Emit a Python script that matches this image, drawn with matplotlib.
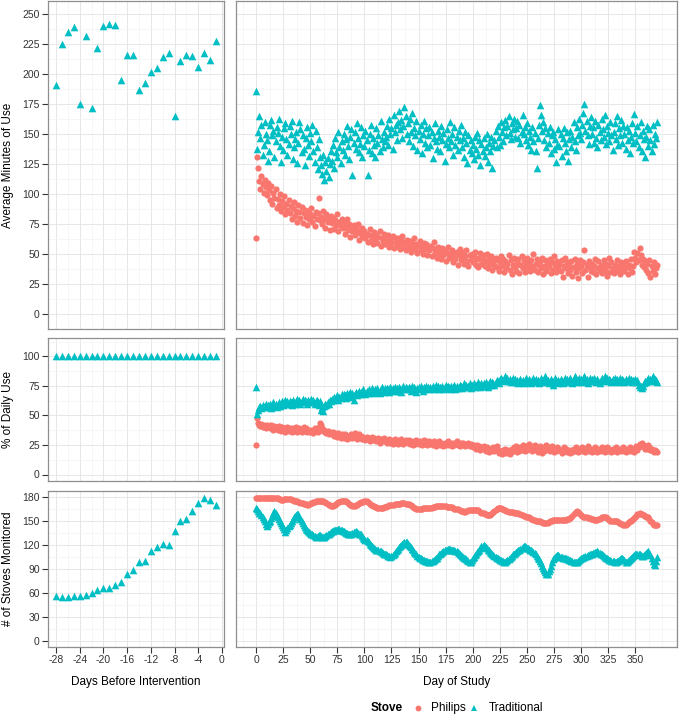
import numpy as np
import matplotlib
matplotlib.use("Agg")
import matplotlib.pyplot as plt
from matplotlib.ticker import MultipleLocator, FixedLocator
from matplotlib.lines import Line2D

plt.rcParams['font.family'] = ['Liberation Sans', 'DejaVu Sans']
plt.rcParams['axes.unicode_minus'] = False

# ---------------- data ----------------
pre_days = list(range(-28, 0))
pre_trad_minutes = [191, 225, 235, 239, 175, 232, 172, 222, 240, 242, 241, 195, 216, 216,
                    187, 193, 202, 205, 214, 218, 165, 211, 216, 215, 206, 218, 212, 228]
pre_trad_pct = [100] * 28
pre_trad_stoves = [56, 55, 55, 56, 56, 57, 60, 64, 66, 66, 70, 73, 83, 89,
                   98, 100, 112, 117, 121, 120, 137, 150, 152, 162, 172, 178, 176, 170]

philips_minutes = [
    63, 131, 122, 111, 104, 115, 108, 101, 112, 106,
    99, 109, 103, 95, 107, 92, 101, 97, 104, 88,
    96, 91, 100, 86, 94, 89, 98, 83, 92, 87,
    95, 84, 90, 79, 88, 93, 82, 86, 77, 91,
    85, 80, 89, 76, 84, 87, 81, 74, 86, 79,
    83, 88, 77, 82, 73, 85, 79, 84, 97, 78,
    81, 75, 86, 79, 72, 83, 77, 80, 70, 82,
    76, 80, 71, 78, 74, 83, 69, 77, 73, 79,
    72, 76, 67, 74, 79, 70, 75, 64, 73, 69,
    74, 66, 71, 68, 75, 62, 70, 67, 72, 64,
    69, 63, 67, 60, 66, 71, 61, 65, 58, 68,
    62, 66, 59, 64, 69, 57, 63, 61, 67, 58,
    64, 60, 66, 56, 62, 59, 65, 55, 63, 60,
    57, 63, 59, 54, 61, 65, 56, 60, 53, 62,
    58, 55, 61, 52, 59, 56, 63, 54, 58, 51,
    57, 61, 53, 56, 50, 59, 54, 58, 49, 55,
    53, 57, 48, 55, 60, 51, 54, 47, 56, 50,
    52, 46, 55, 49, 53, 44, 51, 56, 47, 50,
    48, 53, 43, 50, 46, 52, 41, 49, 54, 45,
    47, 51, 42, 48, 53, 44, 40, 49, 45, 50,
    43, 48, 52, 41, 46, 39, 47, 51, 42, 45,
    49, 40, 44, 50, 38, 46, 42, 48, 37, 44,
    41, 47, 39, 45, 36, 43, 48, 40, 46, 35,
    44, 38, 42, 49, 37, 45, 33, 41, 47, 39,
    36, 43, 46, 34, 41, 48, 38, 44, 35, 42,
    47, 39, 43, 36, 45, 40, 50, 37, 42, 46,
    35, 41, 44, 38, 47, 33, 40, 45, 36, 42,
    39, 46, 34, 43, 37, 48, 41, 35, 44, 38,
    42, 36, 45, 31, 40, 47, 38, 43, 34, 41,
    37, 44, 32, 39, 46, 35, 42, 30, 38, 45,
    40, 34, 43, 53, 37, 41, 31, 44, 39, 36,
    42, 35, 40, 46, 33, 38, 44, 37, 41, 34,
    39, 45, 36, 42, 32, 40, 47, 35, 43, 38,
    34, 41, 37, 45, 36, 40, 33, 43, 38, 42,
    36, 44, 39, 33, 41, 38, 46, 35, 40, 52,
    47, 43, 51, 45, 55, 49, 41, 46, 39, 44,
    37, 42, 34, 45, 31, 40, 36, 43, 33, 38,
    41]

trad_minutes = [
    186, 138, 152, 165, 147, 158, 133, 141, 160, 150,
    145, 128, 136, 158, 162, 149, 153, 131, 144, 156,
    151, 163, 140, 127, 148, 137, 155, 159, 146, 133,
    142, 157, 150, 161, 129, 139, 146, 152, 126, 143,
    160, 154, 135, 149, 138, 124, 147, 156, 141, 132,
    151, 144, 158, 136, 127, 153, 139, 121, 146, 131,
    124, 117, 133, 112, 127, 119, 130, 114, 125, 136,
    128, 141, 122, 147, 135, 131, 152, 139, 126, 144,
    137, 150, 133, 146, 157, 140, 129, 148, 154, 116,
    143, 152, 138, 159, 147, 135, 142, 156, 131, 149,
    140, 153, 145, 116, 137, 150, 158, 134, 147, 141,
    131, 155, 143, 149, 136, 161, 146, 139, 152, 144,
    148, 157, 141, 163, 150, 155, 138, 166, 152, 158,
    145, 160, 169, 154, 162, 147, 157, 173, 165, 150,
    159, 144, 163, 152, 168, 140, 155, 149, 161, 137,
    153, 146, 158, 134, 150, 161, 143, 155, 139, 149,
    156, 141, 152, 130, 147, 159, 144, 138, 153, 148,
    136, 157, 145, 151, 128, 142, 154, 147, 139, 160,
    144, 150, 133, 156, 141, 148, 137, 153, 145, 158,
    139, 147, 131, 152, 143, 126, 149, 137, 145, 134,
    141, 129, 148, 138, 151, 133, 145, 124, 142, 136,
    147, 132, 139, 150, 127, 143, 136, 148, 122, 140,
    145, 153, 139, 157, 148, 141, 160, 152, 144, 156,
    162, 149, 157, 165, 151, 146, 159, 154, 163, 148,
    155, 161, 147, 158, 143, 152, 166, 150, 156, 145,
    159, 141, 153, 148, 137, 156, 144, 151, 136, 122,
    147, 158, 174, 166, 153, 160, 145, 155, 139, 151,
    143, 156, 134, 149, 152, 138, 146, 127, 141, 154,
    140, 150, 132, 147, 155, 143, 136, 152, 128, 146,
    153, 139, 148, 160, 144, 137, 156, 149, 163, 151,
    146, 158, 168, 175, 153, 161, 149, 142, 157, 164,
    150, 156, 143, 161, 147, 139, 158, 152, 145, 163,
    154, 148, 166, 142, 157, 151, 144, 160, 149, 137,
    152, 159, 146, 165, 141, 155, 149, 162, 143, 157,
    150, 138, 156, 145, 153, 134, 148, 159, 143, 167,
    151, 144, 157, 139, 149, 160, 136, 153, 146, 131,
    148, 157, 140, 154, 145, 136, 158, 142, 150, 147,
    160]

philips_pct = [
    25, 48, 44, 42, 41, 43, 40, 42, 41, 39,
    42, 40, 41, 39, 42, 40, 38, 41, 39, 40,
    38, 41, 39, 37, 40, 38, 39, 36, 38, 40,
    37, 39, 38, 36, 39, 37, 38, 40, 36, 38,
    39, 37, 36, 38, 40, 37, 39, 36, 38, 37,
    36, 38, 37, 35, 39, 37, 38, 36, 40, 44,
    42, 39, 37, 38, 36, 35, 37, 34, 36, 35,
    34, 36, 33, 35, 34, 32, 35, 33, 31, 34,
    33, 31, 34, 32, 30, 33, 31, 32, 34, 31,
    32, 35, 33, 30, 32, 34, 31, 33, 30, 32,
    31, 29, 32, 30, 31, 28, 30, 32, 29, 31,
    30, 28, 29, 31, 27, 30, 28, 29, 31, 28,
    29, 27, 28, 30, 27, 29, 26, 28, 30, 27,
    28, 26, 29, 27, 30, 28, 26, 27, 29, 28,
    27, 29, 26, 28, 27, 25, 28, 26, 29, 27,
    26, 28, 27, 25, 27, 29, 26, 28, 25, 27,
    28, 26, 27, 25, 28, 26, 24, 27, 26, 28,
    25, 27, 26, 24, 27, 25, 26, 28, 25, 27,
    26, 24, 27, 25, 26, 28, 25, 26, 24, 27,
    25, 27, 26, 24, 26, 25, 27, 24, 26, 25,
    23, 25, 24, 22, 25, 23, 24, 21, 23, 22,
    24, 22, 20, 23, 21, 19, 22, 20, 21, 23,
    20, 22, 24, 21, 18, 20, 19, 17, 21, 18,
    22, 20, 18, 21, 17, 19, 22, 20, 23, 21,
    24, 19, 22, 20, 23, 21, 25, 22, 20, 24,
    21, 23, 26, 22, 24, 20, 23, 25, 21, 22,
    19, 22, 24, 21, 18, 23, 20, 22, 25, 21,
    23, 20, 22, 24, 21, 19, 22, 20, 23, 21,
    22, 20, 18, 21, 23, 20, 22, 19, 21, 20,
    18, 21, 19, 22, 20, 23, 21, 19, 22, 20,
    21, 23, 20, 22, 19, 21, 24, 20, 22, 21,
    19, 22, 20, 23, 21, 19, 22, 20, 21, 23,
    20, 22, 19, 21, 23, 20, 22, 21, 19, 22,
    20, 21, 23, 19, 22, 20, 21, 22, 20, 23,
    21, 19, 22, 20, 21, 23, 20, 22, 21, 19,
    22, 24, 21, 23, 26, 24, 27, 25, 23, 22,
    24, 22, 25, 23, 21, 22, 20, 19, 21, 20,
    19]

trad_pct = [
    74, 51, 55, 57, 58, 56, 59, 57, 58, 60,
    57, 59, 58, 60, 56, 59, 61, 58, 60, 57,
    59, 61, 58, 60, 62, 59, 61, 63, 60, 62,
    60, 62, 61, 59, 63, 61, 60, 62, 64, 61,
    63, 60, 62, 64, 61, 63, 62, 60, 63, 61,
    62, 64, 61, 63, 60, 62, 63, 61, 59, 62,
    55, 57, 54, 58, 60, 59, 61, 60, 63, 62,
    64, 63, 66, 64, 65, 67, 63, 66, 65, 68,
    66, 68, 67, 65, 69, 67, 68, 70, 66, 69,
    63, 68, 70, 67, 69, 71, 68, 70, 69, 72,
    70, 68, 71, 69, 72, 70, 71, 73, 69, 71,
    72, 70, 73, 71, 69, 72, 74, 71, 70, 73,
    71, 73, 72, 70, 74, 72, 73, 71, 74, 72,
    73, 71, 74, 72, 70, 73, 75, 72, 74, 73,
    72, 74, 73, 71, 75, 73, 74, 72, 70, 73,
    74, 72, 75, 73, 71, 74, 72, 75, 73, 74,
    72, 74, 73, 75, 72, 74, 76, 73, 75, 72,
    74, 73, 75, 72, 74, 76, 73, 75, 74, 72,
    75, 73, 74, 76, 72, 75, 73, 74, 76, 75,
    73, 75, 77, 74, 76, 74, 75, 77, 73, 76,
    75, 77, 74, 76, 75, 78, 76, 74, 77, 75,
    77, 75, 78, 76, 74, 77, 79, 76, 78, 77,
    76, 78, 80, 79, 77, 81, 82, 80, 79, 81,
    83, 80, 82, 79, 81, 78, 80, 82, 79, 81,
    78, 80, 77, 79, 81, 78, 80, 77, 79, 82,
    80, 78, 81, 79, 77, 80, 82, 79, 81, 78,
    80, 77, 79, 82, 80, 78, 81, 83, 79, 80,
    77, 79, 81, 78, 76, 80, 82, 79, 77, 80,
    78, 81, 79, 77, 80, 82, 79, 81, 78, 80,
    82, 79, 77, 80, 83, 81, 78, 80, 82, 79,
    81, 78, 80, 83, 79, 81, 77, 80, 82, 79,
    81, 79, 82, 80, 78, 81, 79, 77, 80, 82,
    79, 81, 83, 80, 82, 79, 81, 80, 78, 81,
    80, 82, 79, 81, 78, 80, 82, 79, 81, 80,
    78, 81, 79, 80, 82, 79, 81, 78, 80, 79,
    81, 78, 80, 76, 74, 75, 73, 75, 77, 79,
    78, 80, 82, 79, 81, 80, 83, 79, 81, 80,
    78]

philips_stoves = [
    178, 178, 178, 178, 178, 178, 178, 178, 178, 178,
    178, 178, 178, 178, 178, 178, 178, 178, 178, 178,
    178, 177, 177, 176, 176, 176, 177, 177, 177, 177,
    177, 177, 177, 176, 176, 175, 175, 174, 174, 173,
    173, 172, 172, 172, 171, 171, 171, 170, 170, 171,
    171, 172, 172, 173, 173, 174, 174, 175, 175, 175,
    175, 175, 174, 173, 173, 172, 171, 170, 169, 168,
    168, 168, 169, 170, 171, 172, 173, 173, 174, 174,
    175, 175, 175, 174, 173, 172, 171, 170, 169, 168,
    168, 168, 169, 170, 171, 172, 172, 173, 173, 173,
    174, 174, 174, 173, 172, 171, 170, 169, 168, 168,
    167, 167, 166, 166, 166, 166, 166, 166, 167, 167,
    167, 168, 168, 169, 169, 170, 170, 170, 171, 171,
    171, 171, 171, 171, 172, 172, 172, 172, 171, 171,
    171, 171, 170, 169, 168, 167, 166, 166, 165, 165,
    165, 165, 165, 165, 166, 166, 166, 166, 166, 166,
    166, 166, 166, 167, 167, 167, 168, 168, 168, 168,
    168, 168, 168, 168, 168, 168, 167, 167, 167, 167,
    167, 167, 166, 165, 165, 164, 164, 163, 163, 162,
    162, 162, 161, 161, 162, 162, 163, 163, 163, 163,
    163, 163, 163, 163, 163, 163, 162, 161, 160, 159,
    159, 158, 158, 157, 157, 157, 157, 158, 159, 161,
    162, 163, 165, 166, 166, 166, 166, 165, 164, 163,
    163, 162, 162, 161, 161, 161, 161, 161, 160, 160,
    160, 159, 159, 158, 158, 157, 157, 156, 156, 155,
    155, 154, 154, 153, 152, 152, 151, 151, 150, 150,
    150, 149, 149, 148, 148, 147, 147, 147, 147, 147,
    148, 149, 150, 150, 151, 151, 151, 151, 151, 151,
    151, 151, 151, 151, 151, 151, 151, 152, 152, 152,
    153, 154, 156, 158, 160, 161, 162, 161, 160, 158,
    157, 156, 155, 155, 154, 154, 153, 153, 153, 152,
    152, 152, 151, 151, 151, 151, 152, 152, 153, 154,
    155, 155, 155, 154, 153, 152, 151, 150, 150, 149,
    149, 149, 149, 149, 148, 147, 147, 146, 146, 145,
    145, 145, 146, 147, 148, 149, 150, 151, 152, 153,
    154, 156, 158, 158, 159, 158, 158, 157, 157, 156,
    155, 155, 154, 152, 150, 148, 146, 145, 144, 144,
    144]

trad_stoves = [
    166, 164, 162, 160, 159, 157, 155, 152, 150, 146,
    143, 146, 148, 150, 153, 156, 159, 162, 160, 157,
    155, 152, 149, 147, 145, 142, 139, 136, 138, 141,
    143, 145, 147, 150, 152, 154, 156, 157, 158, 158,
    155, 152, 150, 147, 144, 142, 140, 138, 137, 136,
    135, 134, 133, 132, 131, 130, 130, 131, 132, 132,
    131, 130, 130, 130, 131, 132, 133, 134, 135, 136,
    137, 137, 138, 138, 138, 138, 139, 139, 138, 138,
    137, 137, 136, 135, 135, 134, 133, 133, 134, 135,
    136, 136, 137, 136, 135, 134, 134, 133, 131, 129,
    127, 126, 126, 125, 123, 121, 120, 118, 117, 116,
    115, 114, 113, 113, 112, 112, 111, 110, 109, 108,
    108, 107, 106, 106, 105, 106, 107, 109, 110, 112,
    114, 115, 117, 118, 120, 121, 122, 123, 124, 123,
    121, 120, 119, 117, 115, 113, 111, 110, 108, 106,
    105, 104, 103, 102, 101, 101, 100, 100, 100, 99,
    99, 99, 100, 100, 101, 102, 103, 104, 106, 108,
    109, 110, 111, 112, 113, 114, 114, 115, 115, 115,
    114, 114, 113, 113, 112, 112, 111, 110, 109, 107,
    106, 105, 104, 103, 102, 101, 100, 99, 99, 101,
    103, 105, 107, 109, 111, 112, 114, 116, 118, 119,
    120, 119, 117, 116, 114, 113, 111, 110, 108, 107,
    106, 105, 104, 103, 102, 101, 101, 100, 100, 99,
    99, 100, 101, 102, 104, 105, 106, 108, 109, 110,
    111, 112, 113, 114, 115, 116, 117, 118, 118, 117,
    116, 116, 115, 114, 113, 112, 111, 110, 108, 106,
    104, 102, 100, 97, 94, 91, 88, 86, 84, 84,
    87, 90, 94, 98, 102, 104, 105, 106, 107, 107,
    106, 105, 105, 104, 104, 103, 103, 102, 102, 101,
    101, 100, 100, 99, 99, 99, 99, 100, 101, 102,
    103, 104, 105, 105, 106, 106, 107, 107, 108, 108,
    109, 110, 110, 111, 111, 112, 111, 110, 109, 108,
    107, 106, 105, 104, 103, 102, 101, 101, 100, 100,
    100, 99, 99, 100, 100, 101, 102, 103, 104, 102,
    101, 99, 99, 100, 101, 102, 104, 105, 106, 107,
    108, 108, 109, 109, 108, 107, 106, 106, 107, 109,
    110, 111, 112, 110, 107, 104, 100, 96, 95, 100,
    105]

study_days = np.arange(len(philips_minutes))

row_titles = ["Average Minutes of Use", "% of Daily Use", "# of Stoves Monitored"]
left_xticks = [-28, -24, -20, -16, -12, -8, -4, 0]
right_xticks = [0, 25, 50, 75, 100, 125, 150, 175, 200, 225, 250, 275, 300, 325, 350]
row_yticks = [list(range(0, 251, 25)), [0, 25, 50, 75, 100], list(range(0, 181, 30))]

# ---------------- style ----------------
PHIL = "#F8766D"
TRAD = "#00BFC4"
W, H = 679, 715
fig = plt.figure(figsize=(W / 100, H / 100), dpi=100)

def box(x0, y0, x1, y1):
    return [x0 / W, 1 - y1 / H, (x1 - x0) / W, (y1 - y0) / H]

cols = [(48, 224), (236, 677)]
rows = [(1, 329), (338, 481), (491, 647)]
ylims = [(-12.5, 261), (-5.5, 115.5), (-7.5, 187)]
xlims = [(-29.35, 0.35), (-18.5, 388.5)]

left_data = [pre_trad_minutes, pre_trad_pct, pre_trad_stoves]
right_data = [(philips_minutes, trad_minutes), (philips_pct, trad_pct),
              (philips_stoves, trad_stoves)]
ymin_minor = [12.5, 12.5, 15]

TS = 30   # triangle size
CS = 20   # circle size

for r, (y0, y1) in enumerate(rows):
    for c, (x0, x1) in enumerate(cols):
        ax = fig.add_axes(box(x0, y0, x1, y1))
        ax.set_xlim(*xlims[c])
        ax.set_ylim(*ylims[r])
        ax.set_facecolor("white")
        for s in ax.spines.values():
            s.set_color("#8F8F8F")
            s.set_linewidth(0.9)
        ax.yaxis.set_major_locator(FixedLocator(row_yticks[r]))
        ax.yaxis.set_minor_locator(MultipleLocator(ymin_minor[r]))
        if c == 0:
            ax.xaxis.set_major_locator(FixedLocator(left_xticks))
            ax.xaxis.set_minor_locator(MultipleLocator(2))
        else:
            ax.xaxis.set_major_locator(FixedLocator(right_xticks))
            ax.xaxis.set_minor_locator(MultipleLocator(12.5))
        ax.grid(which="major", color="#E3E3E3", linewidth=0.6)
        ax.grid(which="minor", color="#F3F3F3", linewidth=0.5)
        ax.set_axisbelow(True)
        ax.tick_params(which="minor", length=0)
        ax.tick_params(which="major", length=4, width=0.8, color="#333333",
                       labelsize=7.5, labelcolor="#333333", pad=2)
        if c == 0:
            ax.set_yticklabels([str(v) for v in row_yticks[r]])
        else:
            ax.tick_params(axis="y", left=False, labelleft=False)
        if r == 2:
            if c == 0:
                ax.set_xticklabels([str(v) for v in left_xticks])
            else:
                ax.set_xticklabels([str(v) for v in right_xticks])
        else:
            ax.tick_params(axis="x", bottom=False, labelbottom=False)

        if c == 0:
            ax.scatter(pre_days, left_data[r], marker="^", s=TS, color=TRAD,
                       linewidths=0, zorder=3)
        else:
            p, t = right_data[r]
            ax.scatter(study_days, p, marker="o", s=CS, color=PHIL,
                       linewidths=0, zorder=3)
            ax.scatter(study_days, t, marker="^", s=TS, color=TRAD,
                       linewidths=0, zorder=3)

# row titles
for r, (y0, y1) in enumerate(rows):
    fig.text(8 / W, 1 - ((y0 + y1) / 2) / H, row_titles[r], rotation=90,
             ha="center", va="center", fontsize=8.5, color="black")

# x titles
fig.text(((48 + 224) / 2) / W, 1 - 682 / H, "Days Before Intervention",
         ha="center", va="center", fontsize=8.5)
fig.text(((236 + 677) / 2) / W, 1 - 682 / H, "Day of Study",
         ha="center", va="center", fontsize=8.5)

# legend
ly = 1 - 708 / H
fig.text(387 / W, ly, "Stove", ha="center", va="center", fontsize=8.5,
         fontweight="bold")
fig.add_artist(Line2D([418 / W], [ly], marker="o", markersize=4.2, color=PHIL,
                      linestyle="none", markeredgewidth=0,
                      transform=fig.transFigure))
fig.text(431 / W, ly, "Philips", ha="left", va="center", fontsize=8.5)
fig.add_artist(Line2D([474 / W], [ly], marker="^", markersize=5, color=TRAD,
                      linestyle="none", markeredgewidth=0,
                      transform=fig.transFigure))
fig.text(489 / W, ly, "Traditional", ha="left", va="center", fontsize=8.5)

fig.savefig("out.png", dpi=100, facecolor="white")
